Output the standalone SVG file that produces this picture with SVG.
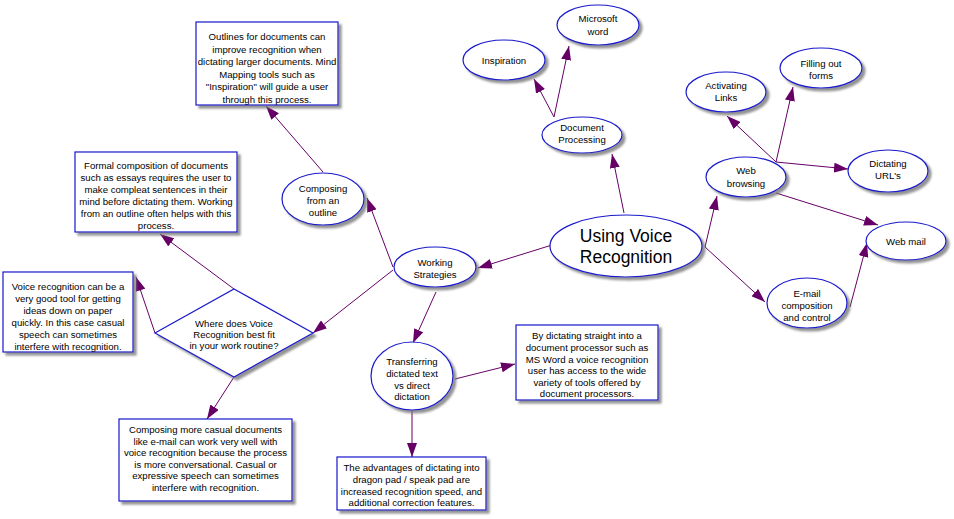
<svg xmlns="http://www.w3.org/2000/svg" width="954" height="519" viewBox="0 0 954 519">
<defs>
<style>
.n{fill:#fff;stroke:#1a1acc;stroke-width:1.2;filter:url(#sh)}
.t{font-family:"Liberation Sans",Arial,sans-serif;font-size:9.6px;fill:#000;text-anchor:middle}
.big{font-size:17.5px}
.c line{stroke:#660066;stroke-width:1;marker-end:url(#ah)}
</style>
<filter id="sh" x="-10%" y="-10%" width="130%" height="140%">
<feDropShadow dx="3" dy="3" stdDeviation="1" flood-color="#777" flood-opacity="0.8"/>
</filter>
<marker id="ah" markerUnits="userSpaceOnUse" markerWidth="15" markerHeight="10" refX="14" refY="5" orient="auto" viewBox="0 0 15 10">
<path d="M0,0 L14,5 L0,10 z" fill="#660066"/>
</marker>
</defs>
<rect width="954" height="519" fill="#fff"/>
<g class="c" id="connectors">
<line x1="624" y1="213" x2="612" y2="154"/>
<line x1="554" y1="117" x2="534" y2="79"/>
<line x1="554" y1="117" x2="569" y2="46"/>
<line x1="705" y1="247" x2="717" y2="196"/>
<line x1="705" y1="247" x2="765" y2="302"/>
<line x1="850" y1="307" x2="867" y2="243"/>
<line x1="776" y1="193" x2="878" y2="225"/>
<line x1="776" y1="162" x2="727" y2="116"/>
<line x1="776" y1="162" x2="793" y2="87"/>
<line x1="776" y1="162" x2="848" y2="169"/>
<line x1="552" y1="245" x2="478" y2="268"/>
<line x1="393" y1="267" x2="367" y2="198"/>
<line x1="393" y1="270" x2="313" y2="333"/>
<line x1="436" y1="292" x2="413" y2="343"/>
<line x1="455" y1="379" x2="515" y2="364"/>
<line x1="412" y1="410" x2="412" y2="457"/>
<line x1="323" y1="172" x2="266" y2="106"/>
<line x1="234" y1="289" x2="160" y2="234"/>
<line x1="155" y1="333" x2="136" y2="277"/>
<line x1="234" y1="377" x2="207" y2="419"/>
</g>
<g id="central"><ellipse class="n" cx="626" cy="246" rx="76" ry="31"/><text class="t big" x="626" y="242">Using Voice</text><text class="t big" x="626" y="263">Recognition</text></g>
<g id="docproc"><ellipse class="n" cx="582" cy="135" rx="40" ry="18"/><text class="t" x="582" y="131">Document</text><text class="t" x="582" y="143">Processing</text></g>
<g id="inspiration"><ellipse class="n" cx="504" cy="60" rx="41" ry="20"/><text class="t" x="504" y="64">Inspiration</text></g>
<g id="msword"><ellipse class="n" cx="598" cy="25" rx="41" ry="20"/><text class="t" x="598" y="22">Microsoft</text><text class="t" x="598" y="35">word</text></g>
<g id="activating"><ellipse class="n" cx="726" cy="92" rx="40" ry="20"/><text class="t" x="726" y="89">Activating</text><text class="t" x="726" y="101">Links</text></g>
<g id="filling"><ellipse class="n" cx="821" cy="68" rx="41" ry="20"/><text class="t" x="821" y="67">Filling out</text><text class="t" x="821" y="79">forms</text></g>
<g id="dictating"><ellipse class="n" cx="888" cy="171" rx="40" ry="21"/><text class="t" x="888" y="167">Dictating</text><text class="t" x="888" y="179">URL's</text></g>
<g id="webbrowsing"><ellipse class="n" cx="746" cy="177" rx="40" ry="20"/><text class="t" x="746" y="174">Web</text><text class="t" x="746" y="187">browsing</text></g>
<g id="webmail"><ellipse class="n" cx="906" cy="241" rx="40" ry="19"/><text class="t" x="906" y="245">Web mail</text></g>
<g id="email"><ellipse class="n" cx="807" cy="303" rx="40" ry="25"/><text class="t" x="807" y="297">E-mail</text><text class="t" x="807" y="309">composition</text><text class="t" x="807" y="321">and control</text></g>
<g id="composing"><ellipse class="n" cx="323" cy="199" rx="41" ry="26"/><text class="t" x="323" y="192">Composing</text><text class="t" x="323" y="204">from an</text><text class="t" x="323" y="216">outline</text></g>
<g id="working"><ellipse class="n" cx="435" cy="267" rx="41" ry="20"/><text class="t" x="435" y="266">Working</text><text class="t" x="435" y="278">Strategies</text></g>
<g id="transferring"><ellipse class="n" cx="412" cy="376" rx="41" ry="34"/><text class="t" x="412" y="365">Transferring</text><text class="t" x="412" y="377">dictated text</text><text class="t" x="412" y="389">vs direct</text><text class="t" x="412" y="400">dictation</text></g>
<g id="outlinesbox"><rect class="n" x="196" y="22" width="142" height="83"/><text class="t" x="267" y="40">Outlines for documents can</text><text class="t" x="267" y="52.5">improve recognition when</text><text class="t" x="267" y="65">dictating larger documents. Mind</text><text class="t" x="267" y="77.5">Mapping tools such as</text><text class="t" x="267" y="90">"Inspiration" will guide a user</text><text class="t" x="267" y="102.5">through this process.</text></g>
<g id="formalbox"><rect class="n" x="75" y="152" width="162" height="80"/><text class="t" x="156" y="169">Formal composition of documents</text><text class="t" x="156" y="181">such as essays requires the user to</text><text class="t" x="156" y="193">make compleat sentences in their</text><text class="t" x="156" y="205">mind before dictating them. Working</text><text class="t" x="156" y="217">from an outline often helps with this</text><text class="t" x="156" y="229">process.</text></g>
<g id="voicebox"><rect class="n" x="3" y="272" width="130" height="80"/><text class="t" x="68" y="290">Voice recognition can be a</text><text class="t" x="68" y="302">very good tool for getting</text><text class="t" x="68" y="314">ideas down on paper</text><text class="t" x="68" y="326">quickly. In this case casual</text><text class="t" x="68" y="338">speech can sometimes</text><text class="t" x="68" y="350">interfere with recognition.</text></g>
<g id="diamond"><polygon class="n" points="234,289 313,333 234,377 155,333"/><text class="t" x="234" y="327">Where does Voice</text><text class="t" x="234" y="338">Recognition best fit</text><text class="t" x="234" y="349">in your work routine?</text></g>
<g id="casualbox"><rect class="n" x="119" y="419" width="173" height="82"/><text class="t" x="205.5" y="433">Composing more casual documents</text><text class="t" x="205.5" y="444.5">like e-mail can work very well with</text><text class="t" x="205.5" y="456">voice recognition because the process</text><text class="t" x="205.5" y="467.5">is more conversational. Casual or</text><text class="t" x="205.5" y="479">expressive speech can sometimes</text><text class="t" x="205.5" y="490.5">interfere with recognition.</text></g>
<g id="advbox"><rect class="n" x="337" y="457" width="149" height="53"/><text class="t" x="411.5" y="471">The advantages of dictating into</text><text class="t" x="411.5" y="483">dragon pad / speak pad are</text><text class="t" x="411.5" y="495">increased recognition speed, and</text><text class="t" x="411.5" y="506">additional correction features.</text></g>
<g id="dictbox"><rect class="n" x="516" y="325" width="142" height="75"/><text class="t" x="587" y="339">By dictating straight into a</text><text class="t" x="587" y="351">document processor such as</text><text class="t" x="587" y="362.5">MS Word a voice recognition</text><text class="t" x="587" y="374">user has access to the wide</text><text class="t" x="587" y="386">variety of tools offered by</text><text class="t" x="587" y="397">document processors.</text></g>
</svg>
